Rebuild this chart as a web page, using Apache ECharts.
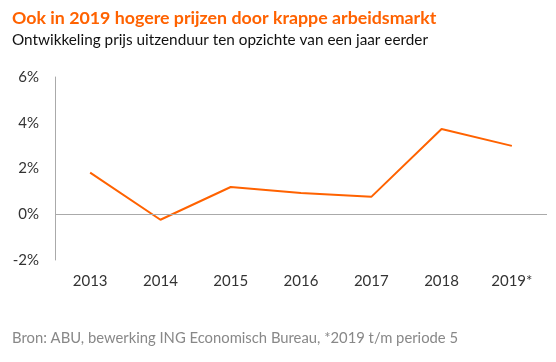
<!DOCTYPE html>
<html>
<head>
<meta charset="utf-8">
<script src="https://cdn.jsdelivr.net/npm/echarts@6/dist/echarts.min.js"></script>
<style>
html,body{margin:0;padding:0;background:#fff;}
#c{width:556px;height:362px;}
</style>
</head>
<body>
<div id="c"></div>
<script>
const categories = ['2013','2014','2015','2016','2017','2018','2019*'];
const values = [1.82, -0.24, 1.19, 0.93, 0.76, 3.73, 2.99];
const yTicks = [-2, 0, 2, 4, 6];

const chart = echarts.init(document.getElementById('c'), null, {renderer:'canvas'});
const FONT = 'Lato, "Noto Sans", sans-serif';
chart.setOption({
  animation:false,
  backgroundColor:'#fff',
  title:[
    {text:'Ook in 2019 hogere prijzen door krappe arbeidsmarkt', left:7, top:4,
     textStyle:{color:'#FF6200', fontSize:17.8, fontWeight:'bold', fontFamily:FONT}},
    {text:'Ontwikkeling prijs uitzenduur ten opzichte van een jaar eerder', left:7, top:28,
     textStyle:{color:'#111', fontSize:15.3, fontWeight:'normal', fontFamily:FONT}},
    {text:'Bron: ABU, bewerking ING Economisch Bureau, *2019 t/m periode 5', left:7, top:326,
     textStyle:{color:'#888', fontSize:14.8, fontWeight:'normal', fontFamily:FONT}}
  ],
  grid:{left:55, right:9, top:77, bottom:102},
  xAxis:{type:'category', data:categories, boundaryGap:true,
    axisLine:{show:false}, axisTick:{show:false},
    axisLabel:{color:'#333', fontSize:15, margin:14, fontFamily:FONT}},
  yAxis:{type:'value', min:yTicks[0], max:yTicks[yTicks.length-1], interval:2,
    axisLine:{show:true, lineStyle:{color:'#aaa', width:1}},
    axisTick:{show:false}, splitLine:{show:false},
    axisLabel:{color:'#333', fontSize:15, margin:16, fontFamily:FONT, formatter:v=>v+'%'}},
  series:[{type:'line', data:values, symbol:'none',
    lineStyle:{color:'#FF6200', width:2},
    markLine:{silent:true, symbol:'none', label:{show:false},
      lineStyle:{color:'#aaa', width:1, type:'solid'}, data:[{yAxis:0}]}}]
});
</script>
</body>
</html>
